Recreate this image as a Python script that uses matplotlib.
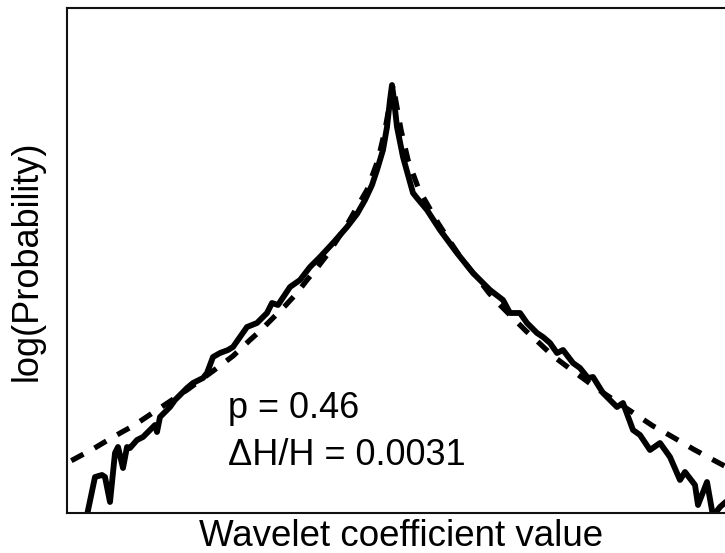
import matplotlib
matplotlib.use("Agg")
import matplotlib.pyplot as plt

plt.rcParams['font.family'] = ['Liberation Sans', 'DejaVu Sans']

# Empirical log-probability of wavelet coefficients (solid line)
emp_x = [-3.07, -2.98, -2.91, -2.88, -2.83, -2.78, -2.75, -2.70, -2.66, -2.63,
         -2.56, -2.50, -2.45, -2.38, -2.36, -2.33, -2.23, -2.18, -2.13, -2.06,
         -2.00, -1.90, -1.86, -1.80, -1.73, -1.65, -1.60, -1.53, -1.46, -1.36,
         -1.26, -1.21, -1.15, -1.03, -0.93, -0.83, -0.73, -0.60, -0.46, -0.36,
         -0.28, -0.21, -0.16, -0.10, -0.06, -0.03, -0.01, 0.01, 0.04, 0.10,
         0.15, 0.20, 0.24, 0.34, 0.47, 0.64, 0.80, 0.97, 1.10, 1.17,
         1.27, 1.34, 1.44, 1.50, 1.57, 1.64, 1.70, 1.80, 1.87, 1.95,
         2.00, 2.10, 2.17, 2.24, 2.30, 2.40, 2.47, 2.57, 2.67, 2.77,
         2.87, 2.92, 3.02, 3.05, 3.14, 3.20, 3.27, 3.35]
emp_y = [-4.35, -3.92, -3.90, -3.92, -4.17, -3.68, -3.62, -3.83, -3.62, -3.63,
         -3.55, -3.52, -3.47, -3.40, -3.47, -3.32, -3.22, -3.15, -3.10, -3.03,
         -2.98, -2.93, -2.88, -2.72, -2.68, -2.65, -2.62, -2.52, -2.42, -2.38,
         -2.28, -2.18, -2.20, -2.02, -1.95, -1.82, -1.72, -1.58, -1.42, -1.29,
         -1.15, -1.00, -0.85, -0.65, -0.42, -0.15, 0.00, -0.15, -0.42, -0.72,
         -0.90, -1.08, -1.13, -1.25, -1.45, -1.68, -1.88, -2.05, -2.15, -2.28,
         -2.28, -2.38, -2.48, -2.52, -2.58, -2.68, -2.65, -2.78, -2.83, -2.93,
         -2.92, -3.08, -3.15, -3.22, -3.18, -3.45, -3.50, -3.65, -3.58, -3.72,
         -3.95, -3.87, -4.00, -4.20, -3.97, -4.31, -4.22, -4.15]

# Generalized Gaussian fit (dashed line)
fit_x = [-3.45, -3.26, -3.00, -2.90, -2.71, -2.60, -2.45, -2.33, -2.18, -2.06,
         -1.80, -1.60, -1.43, -1.33, -1.20, -1.08, -0.96, -0.86, -0.76, -0.66,
         -0.56, -0.45, -0.33, -0.26, -0.15, -0.08, -0.03,
         0.00,
         0.03, 0.08, 0.15, 0.26, 0.33, 0.45, 0.56, 0.66, 0.76, 0.86,
         0.96, 1.08, 1.20, 1.33, 1.43, 1.60, 1.80, 2.06, 2.18, 2.33,
         2.45, 2.60, 2.71, 2.90, 3.00, 3.26, 3.45]
fit_y = [-3.88, -3.78, -3.64, -3.58, -3.47, -3.41, -3.31, -3.23, -3.13, -3.05,
         -2.86, -2.71, -2.55, -2.46, -2.33, -2.21, -2.08, -1.95, -1.83, -1.70,
         -1.55, -1.38, -1.17, -1.05, -0.75, -0.45, -0.17,
         0.00,
         -0.17, -0.45, -0.75, -1.05, -1.17, -1.38, -1.55, -1.70, -1.83, -1.95,
         -2.08, -2.21, -2.33, -2.46, -2.55, -2.71, -2.86, -3.05, -3.13, -3.23,
         -3.31, -3.41, -3.47, -3.58, -3.64, -3.78, -3.88]

annot_lines = ["p = 0.46", "\u0394H/H = 0.0031"]
x_label = "Wavelet coefficient value"
y_label = "log(Probability)"

W, H = 725, 553
fig = plt.figure(figsize=(W / 100, H / 100), dpi=100)
left, right, top, bottom = 67, 735, 8, 513
ax = fig.add_axes([left / W, 1 - bottom / H, (right - left) / W, (bottom - top) / H])

ax.plot(fit_x, fit_y, color='black', lw=3.8, linestyle=(0, (2.6, 2.4)),
        solid_joinstyle='round')
ax.plot(emp_x, emp_y, color='black', lw=4.2, solid_joinstyle='round',
        solid_capstyle='round')

ax.set_xlim(-3.26, 3.42)
ax.set_ylim(-4.28, 0.77)
ax.set_xticks([])
ax.set_yticks([])
for s in ax.spines.values():
    s.set_linewidth(1.5)
    s.set_color('#111111')

ax.text(-1.65, -3.33, annot_lines[0], fontsize=26, va='baseline', ha='left')
ax.text(-1.65, -3.80, annot_lines[1], fontsize=26, va='baseline', ha='left')

ax.set_xlabel(x_label, fontsize=26.5, labelpad=4)
ax.set_ylabel(y_label, fontsize=26, labelpad=16)

fig.savefig("out.png", dpi=100)
